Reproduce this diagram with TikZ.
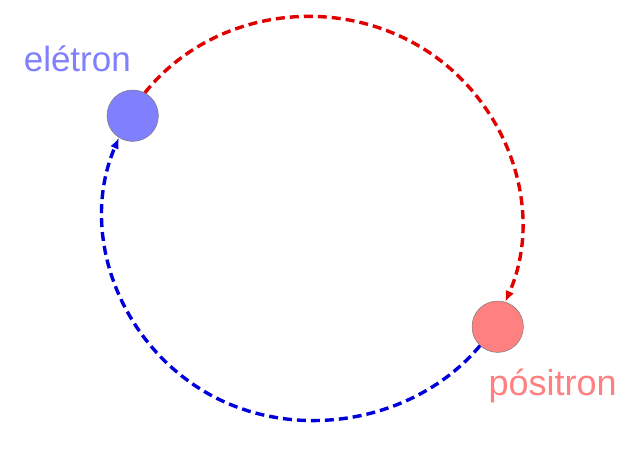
\documentclass[tikz,border=0pt]{standalone}
\usepackage{fontspec}
\setmainfont{Liberation Sans}
\usetikzlibrary{arrows.meta}
\definecolor{elec}{RGB}{128,128,255}
\definecolor{posi}{RGB}{255,128,128}
\definecolor{arcred}{RGB}{224,0,0}
\definecolor{arcblue}{RGB}{0,0,220}
\tikzset{
  ball/.style={circle, minimum size=51.4pt, inner sep=0pt, draw={rgb,255:red,120;green,120;blue,120}, line width=0.5pt},
  lbl/.style={anchor=base west, inner sep=0pt},
  orbit/.style={line width=3.4pt, dash pattern=on 9pt off 5pt, -{Latex[length=11pt,width=9pt]}}
}
\begin{document}
\begin{tikzpicture}[x=1pt,y=-1pt]
\useasboundingbox (0,0) rectangle (640,450);
\node[ball, fill=elec] (e) at (132.7,115.7) {};
\node[ball, fill=posi] (p) at (497.7,326.7) {};
\node[lbl, text=elec, font=\fontsize{35}{40}\selectfont] (el) at (23.6,71.7) {elétron};
\node[lbl, text=posi, font=\fontsize{36}{42}\selectfont] (pl) at (488.3,395.5) {pósitron};
\coordinate (rmid) at (417.2,45.0);
\coordinate (bmid) at (205.1,391.9);
\draw[orbit, draw=arcred] (e.62) .. controls +(64,-80) and +(-89.6,-51.6) .. (rmid)
  .. controls +(89.6,51.6) and +(41,-93.4) .. (p.73);
\draw[orbit, draw=arcblue] (p.227) .. controls +(-65.2,77.7) and +(88.2,51.9) .. (bmid)
  .. controls +(-88.2,-51.9) and +(-40,92.5) .. (e.238);
\end{tikzpicture}
\end{document}
